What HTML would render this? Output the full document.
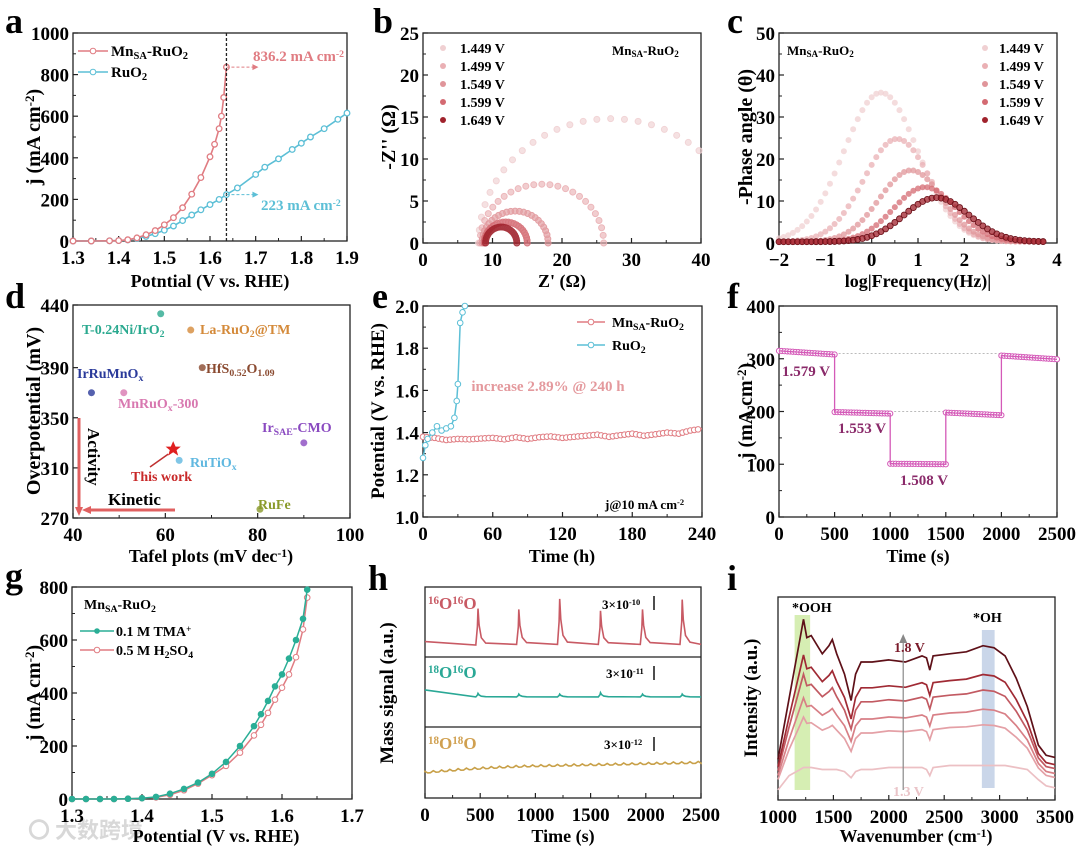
<!DOCTYPE html>
<html><head><meta charset="utf-8"><style>
html,body{margin:0;padding:0;background:#fff}
svg{display:block;font-family:"Liberation Serif","Noto Serif CJK SC",serif;font-weight:bold}
</style></head><body>
<svg id="fig" width="1080" height="851" viewBox="0 0 1080 851" xmlns="http://www.w3.org/2000/svg">
<g font-size="36" fill="#000">
<text x="5" y="33">a</text>
<text x="373" y="33">b</text>
<text x="727" y="33">c</text>
<text x="5" y="308">d</text>
<text x="372" y="308">e</text>
<text x="727" y="308">f</text>
<text x="5" y="588">g</text>
<text x="368" y="590">h</text>
<text x="727" y="590">i</text>
</g>
<text x="28" y="838" font-size="22" fill="#d8d8d8" font-family="'Noto Sans CJK SC',sans-serif">〇 大数跨境</text>
</svg>
<script>
// ---------- DATA ----------
const aMnX=[1.30,1.34,1.38,1.40,1.42,1.44,1.46,1.48,1.50,1.52,1.54,1.56,1.58,1.60,1.61,1.62,1.625,1.63,1.636];
const aMnY=[0,0,1,2,6,15,30,50,78,112,160,225,305,405,465,540,600,690,836];
const aRuX=[1.30,1.34,1.38,1.40,1.42,1.44,1.46,1.48,1.50,1.52,1.54,1.56,1.58,1.60,1.62,1.636,1.66,1.70,1.72,1.75,1.78,1.80,1.82,1.85,1.88,1.90];
const aRuY=[0,0,1,2,5,12,22,35,52,72,98,125,150,175,200,223,255,320,355,395,440,470,500,540,585,615];
const bVolt=['1.449 V','1.499 V','1.549 V','1.599 V','1.649 V'];
const bStart=[8.0,8.2,8.5,8.8,9.0];
const bEnd=[46,26,18,15,13.5];
const bPeak=[14.8,7.0,3.8,2.5,1.9];
const cPeakPos=[0.2,0.55,0.85,1.15,1.4];
const cPeakH=[35.5,24.5,17,13,10.5];
const cWidth=[0.8,0.72,0.68,0.68,0.7];
const shadeCols=['#f0d0d2','#eab0b4','#e0959a','#d46a72','#a0222c'];
const dX=[59,65.5,68,44,51,90,63,80.5];
const dY=[433,420,390,370,370,330,316,277];
const dLab=['T-0.24Ni/IrO2','La-RuO2@TM','HfS0.52O1.09','IrRuMnOx','MnRuOx-300','IrSAE-CMO','RuTiOx','RuFe'];
const dCol=['#2aa98f','#d48a3a','#8a4a30','#2a3a9a','#d878b0','#8a4ac0','#60b8e0','#8a9a2a'];
const dStarX=61.7, dStarY=325;
const eMnT=[0,10,20,30,40,50,60,70,80,90,100,110,120,130,140,150,160,170,180,190,200,210,220,230,240];
const eMnV=[1.38,1.375,1.365,1.37,1.368,1.372,1.375,1.368,1.378,1.37,1.378,1.382,1.375,1.38,1.385,1.39,1.38,1.388,1.395,1.385,1.392,1.40,1.395,1.41,1.418];
const eRuT=[0,2,4,8,12,16,20,24,27,29,30,32,34,36];
const eRuV=[1.28,1.34,1.37,1.40,1.43,1.41,1.42,1.43,1.47,1.55,1.63,1.92,1.97,2.0];
const fStart=[0,500,1000,1500,2000];
const fEnd=[500,1000,1500,2000,2500];
const fLevelA=[315,199,101,198,306];
const fLevelB=[308,196,100,193,299];
const gTx=[1.30,1.32,1.34,1.36,1.38,1.40,1.42,1.44,1.46,1.48,1.50,1.52,1.54,1.56,1.57,1.58,1.59,1.60,1.61,1.62,1.63,1.636];
const gTy=[0,0,0,0,1,3,8,20,38,62,95,140,200,275,320,370,425,470,530,600,680,790];
const gHx=[1.30,1.32,1.34,1.36,1.38,1.40,1.42,1.44,1.46,1.48,1.50,1.52,1.54,1.56,1.57,1.58,1.59,1.60,1.61,1.62,1.63,1.636];
const gHy=[0,0,0,0,1,3,6,16,33,58,90,125,175,240,280,325,375,420,470,535,640,760];
const hPeakT=[480,850,1220,1590,1970,2330];
const hPeakA=[0.52,0.50,0.65,0.48,0.50,0.64];
const hPeakB=[0.05,0.04,0.04,0.06,0.04,0.04];
const hBaseA=[0.12,0.17,0.18,0.18,0.18,0.18,0.18];
const hBaseC=[0.36,0.40,0.43,0.45,0.46,0.47,0.48,0.49,0.50];
const iW=[1000,1100,1200,1230,1260,1300,1400,1460,1490,1530,1600,1660,1700,1750,1850,2000,2150,2300,2340,2370,2400,2550,2700,2850,2950,3050,3150,3250,3350,3420,3500];
const iTop=[0.20,0.50,0.80,0.89,0.80,0.81,0.72,0.76,0.79,0.72,0.62,0.49,0.62,0.68,0.68,0.69,0.68,0.71,0.70,0.64,0.71,0.72,0.73,0.76,0.75,0.71,0.60,0.46,0.27,0.22,0.21];
const iBase=[0.05,0.12,0.15,0.16,0.16,0.16,0.15,0.15,0.15,0.15,0.14,0.11,0.14,0.15,0.15,0.16,0.16,0.16,0.15,0.12,0.16,0.17,0.17,0.17,0.17,0.17,0.16,0.15,0.10,0.07,0.06];
const iScale=[0,0.34,0.47,0.63,0.76,1];
const iCols=['#ecc0c4','#e4a0a6','#d87f86','#c25a62','#a02a34','#5e1018'];

// ---------- HELPERS ----------
const NS='http://www.w3.org/2000/svg';
const svg=document.getElementById('fig');
function el(tag,attrs,parent){const e=document.createElementNS(NS,tag);for(const k in attrs)e.setAttribute(k,attrs[k]);(parent||svg).appendChild(e);return e;}
function scale(d0,d1,r0,r1){return v=>r0+(v-d0)/(d1-d0)*(r1-r0);}
function axes(name,L,R,T,B,xd,yd,xt,yt,xfmt,yfmt,minorX,minorY){
  const g=el('g',{});
  
  
  const sx=scale(xd[0],xd[1],L,R), sy=scale(yd[0],yd[1],B,T);
  const fr=el('rect',{x:L,y:T,width:R-L,height:B-T,fill:'none',stroke:'#222','stroke-width':1.3},g);
  
  
  xt.forEach((v,i)=>{const x=sx(v);
    el('line',{x1:x,x2:x,y1:B,y2:B-5,stroke:'#222','stroke-width':1.2},g);
    const t=el('text',{x:x,y:B+23,'font-size':19,'text-anchor':'middle'},g);t.textContent=xfmt(v);
    
    
    if(minorX&&i<xt.length-1){const m=sx((v+xt[i+1])/2);el('line',{x1:m,x2:m,y1:B,y2:B-3,stroke:'#222'},g);}
  });
  yt.forEach((v,i)=>{const y=sy(v);
    el('line',{x1:L,x2:L+5,y1:y,y2:y,stroke:'#222','stroke-width':1.2},g);
    const t=el('text',{x:L-4,y:y+7,'font-size':19,'text-anchor':'end'},g);t.textContent=yfmt(v);
    
    
    if(minorY&&i<yt.length-1){const m=sy((v+yt[i+1])/2);el('line',{x1:L,x2:L+3,y1:m,y2:m,stroke:'#222'},g);}
  });
  return {sx,sy,g};
}
function rich(x,y,html,attrs,name){
  const t=el('text',Object.assign({x:x,y:y},attrs));
  t.innerHTML=html;
  
  
  return t;
}
function ytitle(x,y,html,name,fs){return rich(0,0,html,{'font-size':fs||18,'text-anchor':'middle',transform:`translate(${x},${y}) rotate(-90)`},name);}
const SUB=s=>`<tspan font-size="70%" baseline-shift="-25%">${s}</tspan>`;
const SUP=s=>`<tspan font-size="65%" baseline-shift="45%">${s}</tspan>`;
function path(pts,attrs,parent){return el('path',Object.assign({d:'M'+pts.map(p=>p[0].toFixed(1)+','+p[1].toFixed(1)).join('L'),fill:'none'},attrs),parent);}
const id=v=>String(v);

// ---------- PANEL A ----------
(function(){
  const A=axes('panel-a',73,347,33,241,[1.3,1.9],[0,1000],[1.3,1.4,1.5,1.6,1.7,1.8,1.9],[0,200,400,600,800,1000],v=>v.toFixed(1),id,true,true);
  const red='#e07c82',blue='#5cbfd6';
  const g1=el('g',{});
  
  
  path(aRuX.map((x,i)=>[A.sx(x),A.sy(aRuY[i])]),{stroke:blue,'stroke-width':1.6},g1);
  aRuX.forEach((x,i)=>{const c=el('circle',{cx:A.sx(x),cy:A.sy(aRuY[i]),r:2.8,fill:'#fff',stroke:blue,'stroke-width':1.3},g1);
    
    });
  const g2=el('g',{});
  
  
  path(aMnX.map((x,i)=>[A.sx(x),A.sy(aMnY[i])]),{stroke:red,'stroke-width':1.6},g2);
  aMnX.forEach((x,i)=>{const c=el('circle',{cx:A.sx(x),cy:A.sy(aMnY[i]),r:2.8,fill:'#fff',stroke:red,'stroke-width':1.3},g2);
    
    });
  const vx=A.sx(1.636);
  const dl=el('line',{x1:vx,x2:vx,y1:33,y2:241,stroke:'#222','stroke-dasharray':'3,2','stroke-width':1.3});
  
  
  el('line',{x1:vx,x2:vx+28,y1:A.sy(836),y2:A.sy(836),stroke:red,'stroke-dasharray':'3,2'});
  el('path',{d:`M${vx+32},${A.sy(836)} l-6,-3 v6z`,fill:red});
  el('line',{x1:vx,x2:vx+28,y1:A.sy(223),y2:A.sy(223),stroke:blue,'stroke-dasharray':'3,2'});
  el('path',{d:`M${vx+32},${A.sy(223)} l-6,-3 v6z`,fill:blue});
  rich(253,61,'836.2 mA cm'+SUP('-2'),{'font-size':15,fill:red},'annotation-836');
  rich(261,210,'223 mA cm'+SUP('-2'),{'font-size':15,fill:blue},'annotation-223');
  el('line',{x1:78,x2:108,y1:51,y2:51,stroke:red,'stroke-width':1.6});
  el('circle',{cx:93,cy:51,r:2.8,fill:'#fff',stroke:red});
  el('line',{x1:78,x2:108,y1:72,y2:72,stroke:blue,'stroke-width':1.6});
  el('circle',{cx:93,cy:72,r:2.8,fill:'#fff',stroke:blue});
  rich(111,56,'Mn'+SUB('SA')+'-RuO'+SUB('2'),{'font-size':15},'legend-mnsa-ruo2');
  rich(111,77,'RuO'+SUB('2'),{'font-size':15},'legend-ruo2');
  rich(210,287,'Potntial (V vs. RHE)',{'font-size':18,'text-anchor':'middle'},'x-axis-title-a');
  ytitle(40,137,'j (mA cm'+SUP('-2')+')','y-axis-title-a',20);
})();

// ---------- PANEL B ----------
(function(){
  const A=axes('panel-b',423,701,33,243,[0,40],[0,25],[0,10,20,30,40],[0,5,10,15,20,25],id,id,true,true);
  for(let k=0;k<5;k++){
    const g=el('g',{opacity:0.9});
    
    
    const cx=(bStart[k]+bEnd[k])/2, rx=(bEnd[k]-bStart[k])/2, ry=bPeak[k];
    const n=k==0?30:24;
    for(let j=0;j<=n;j++){const a=Math.PI-j*Math.PI/n;const x=cx+rx*Math.cos(a), y=ry*Math.sin(a);
      if(x>40)continue;
      const c=el('circle',{cx:A.sx(x),cy:A.sy(y),r:3,fill:shadeCols[k],stroke:shadeCols[k],'fill-opacity':0.7},g);
      
      }
    el('circle',{cx:443,cy:48+k*18,r:3,fill:shadeCols[k]});
    rich(460,53+k*18,bVolt[k],{'font-size':14},'legend-b-'+k);
  }
  rich(612,55,'Mn'+SUB('SA')+'-RuO'+SUB('2'),{'font-size':13},'label-b-sample');
  rich(562,287,"Z' (Ω)",{'font-size':18,'text-anchor':'middle'},'x-axis-title-b');
  ytitle(395,137,"-Z'' (Ω)",'y-axis-title-b',20);
})();

// ---------- PANEL C ----------
(function(){
  const A=axes('panel-c',779,1057,33,243,[-2,4],[0,50],[-2,-1,0,1,2,3,4],[0,10,20,30,40,50],v=>v<0?'−'+(-v):String(v),id,true,true);
  for(let k=0;k<5;k++){
    const g=el('g',{});
    
    
    for(let x=-2;x<=3.8;x+=0.1){const y=0.3+cPeakH[k]*Math.exp(-Math.pow(x-cPeakPos[k],2)/(2*cWidth[k]*cWidth[k]));
      const c=el('circle',{cx:A.sx(x),cy:A.sy(y),r:3,fill:shadeCols[k],'fill-opacity':0.75,stroke:k==4?'#6a1018':'none','stroke-width':0.8},g);
      
      }
    el('circle',{cx:985,cy:48+k*18,r:3,fill:shadeCols[k]});
    rich(999,53+k*18,bVolt[k],{'font-size':14},'legend-c-'+k);
  }
  rich(787,55,'Mn'+SUB('SA')+'-RuO'+SUB('2'),{'font-size':13},'label-c-sample');
  rich(918,287,'log|Frequency(Hz)|',{'font-size':18,'text-anchor':'middle'},'x-axis-title-c');
  ytitle(752,137,'-Phase angle (θ)','y-axis-title-c',20);
})();

// ---------- PANEL D ----------
(function(){
  const A=axes('panel-d',73,350,305,518,[40,100],[270,440],[40,60,80,100],[270,310,350,390,440],id,id,true,false);
  const lp=[[82,334],[200,334],[206,373],[77,378],[118,408],[262,432],[190,467],[258,509]];
  for(let k=0;k<dX.length;k++){
    const x=A.sx(dX[k]),y=A.sy(dY[k]);
    const m=el('circle',{cx:x,cy:y,r:3.5,fill:dCol[k],'fill-opacity':0.8});
    
    
    let h=dLab[k].replace('IrO2','IrO'+SUB('2')).replace('RuO2','RuO'+SUB('2')).replace('S0.52O1.09','S'+SUB('0.52')+'O'+SUB('1.09')).replace('MnOx','MnO'+SUB('x')).replace('RuOx','RuO'+SUB('x')).replace('TiOx','TiO'+SUB('x')).replace('SAE',SUB('SAE'));
    rich(lp[k][0],lp[k][1],h,{'font-size':14,fill:dCol[k]},'label-'+k);
  }
  const sx=A.sx(dStarX),sy=A.sy(dStarY);
  const st=el('path',{d:`M${sx},${sy-8} L${sx+2.4},${sy-2.5} L${sx+7.6},${sy-2.5} L${sx+3.4},${sy+1} L${sx+5},${sy+6.5} L${sx},${sy+3.2} L${sx-5},${sy+6.5} L${sx-3.4},${sy+1} L${sx-7.6},${sy-2.5} L${sx-2.4},${sy-2.5}Z`,fill:'#e02020'});
  
  
  el('line',{x1:150,y1:467,x2:sx-5,y2:sy+5,stroke:'#c03030','stroke-width':1.5});
  rich(131,481,'This work',{'font-size':14,fill:'#c82828'},'label-this-work');
  el('line',{x1:79,y1:418,x2:79,y2:510,stroke:'#e06060','stroke-width':3});
  el('path',{d:'M79,516 l-4,-9 h8z',fill:'#e06060'});
  el('line',{x1:175,y1:510,x2:86,y2:510,stroke:'#e06060','stroke-width':3});
  el('path',{d:'M82,510 l9,-4 v8z',fill:'#e06060'});
  rich(0,0,'Activity',{'font-size':17,transform:'translate(88,428) rotate(90)'},'label-activity');
  rich(108,505,'Kinetic',{'font-size':17},'label-kinetic');
  rich(211,562,'Tafel plots (mV dec'+SUP('-1')+')',{'font-size':18,'text-anchor':'middle'},'x-axis-title-d');
  ytitle(40,411,'Overpotential (mV)','y-axis-title-d',20);
})();

// ---------- PANEL E ----------
(function(){
  const A=axes('panel-e',423,702,306,517,[0,240],[1.0,2.0],[0,60,120,180,240],[1.0,1.2,1.4,1.6,1.8,2.0],id,v=>v.toFixed(1),true,true);
  const red='#e07c82',blue='#5cbfd6';
  const g1=el('g',{});
  
  
  path(eMnT.map((t,i)=>[A.sx(t),A.sy(eMnV[i])]),{stroke:red,'stroke-width':1.5},g1);
  for(let i=0;i<eMnT.length-1;i++){
    [0,0.33,0.66].forEach(f=>{const t=eMnT[i]+f*(eMnT[i+1]-eMnT[i]);const v=eMnV[i]+f*(eMnV[i+1]-eMnV[i]);
      const c=el('circle',{cx:A.sx(t),cy:A.sy(v),r:2.8,fill:'#fff',stroke:red},g1);
      
      });
  }
  const g2=el('g',{});
  
  
  path(eRuT.map((t,i)=>[A.sx(t),A.sy(eRuV[i])]),{stroke:blue,'stroke-width':1.5},g2);
  eRuT.forEach((t,i)=>{const c=el('circle',{cx:A.sx(t),cy:A.sy(eRuV[i]),r:2.8,fill:'#fff',stroke:blue},g2);
    
    });
  el('line',{x1:577,x2:605,y1:322,y2:322,stroke:red,'stroke-width':1.5});
  el('circle',{cx:591,cy:322,r:2.8,fill:'#fff',stroke:red});
  el('line',{x1:577,x2:605,y1:345,y2:345,stroke:blue,'stroke-width':1.5});
  el('circle',{cx:591,cy:345,r:2.8,fill:'#fff',stroke:blue});
  rich(612,327,'Mn'+SUB('SA')+'-RuO'+SUB('2'),{'font-size':14},'legend-e-mnsa');
  rich(612,350,'RuO'+SUB('2'),{'font-size':14},'legend-e-ruo2');
  rich(548,391,'increase 2.89% @ 240 h',{'font-size':15,fill:'#e4999d','text-anchor':'middle'},'annotation-increase');
  rich(605,509,'j@10 mA cm'+SUP('-2'),{'font-size':13},'annotation-current');
  rich(562,562,'Time (h)',{'font-size':18,'text-anchor':'middle'},'x-axis-title-e');
  ytitle(384,411,'Potential (V vs. RHE)','y-axis-title-e',19);
})();

// ---------- PANEL F ----------
(function(){
  const A=axes('panel-f',779,1057,306,517,[0,2500],[0,400],[0,500,1000,1500,2000,2500],[0,100,200,300,400],id,id,true,true);
  const col='#d45ab8';
  el('line',{x1:A.sx(500),x2:A.sx(2000),y1:A.sy(310),y2:A.sy(310),stroke:'#bbb','stroke-dasharray':'2,2'});
  el('line',{x1:A.sx(1000),x2:A.sx(1500),y1:A.sy(200),y2:A.sy(200),stroke:'#bbb','stroke-dasharray':'2,2'});
  const g=el('g',{});
  
  
  const pts=[];
  for(let k=0;k<fStart.length;k++){
    for(let j=0;j<=20;j++){const t=fStart[k]+j*(fEnd[k]-fStart[k])/20;const v=fLevelA[k]+j/20*(fLevelB[k]-fLevelA[k]);pts.push([A.sx(t),A.sy(v)]);
      const c=el('circle',{cx:A.sx(t),cy:A.sy(v),r:2.6,fill:'#fff',stroke:col},g);
      
      }
  }
  path(pts,{stroke:col,'stroke-width':1.3},g);
  rich(782,376,'1.579 V',{'font-size':15,fill:'#8a2a6a'},'label-1.579v');
  rich(838,433,'1.553 V',{'font-size':15,fill:'#8a2a6a'},'label-1.553v');
  rich(900,485,'1.508 V',{'font-size':15,fill:'#8a2a6a'},'label-1.508v');
  rich(918,562,'Time (s)',{'font-size':18,'text-anchor':'middle'},'x-axis-title-f');
  ytitle(752,411,'j (mA cm'+SUP('-2')+')','y-axis-title-f',20);
})();

// ---------- PANEL G ----------
(function(){
  const A=axes('panel-g',72,352,587,799,[1.3,1.7],[0,800],[1.3,1.4,1.5,1.6,1.7],[0,200,400,600,800],v=>v.toFixed(1),id,true,true);
  const teal='#2aae96',red='#e07c82';
  [[gHx,gHy,red,'series-h2so4'],[gTx,gTy,teal,'series-tma']].forEach(s=>{
    const g=el('g',{});
    
    
    path(s[0].map((x,i)=>[A.sx(x),A.sy(s[1][i])]),{stroke:s[2],'stroke-width':1.5},g);
    s[0].forEach((x,i)=>{const c=el('circle',{cx:A.sx(x),cy:A.sy(s[1][i]),r:2.8,fill:s[2]==teal?teal:'#fff',stroke:s[2]},g);
      
      });
  });
  rich(84,609,'Mn'+SUB('SA')+'-RuO'+SUB('2'),{'font-size':14},'label-g-sample');
  el('line',{x1:80,x2:114,y1:631,y2:631,stroke:teal,'stroke-width':1.5});
  el('circle',{cx:97,cy:631,r:2.8,fill:teal});
  el('line',{x1:80,x2:114,y1:650,y2:650,stroke:red,'stroke-width':1.5});
  el('circle',{cx:97,cy:650,r:2.8,fill:'#fff',stroke:red});
  rich(116,636,'0.1 M TMA'+SUP('+'),{'font-size':14},'legend-tma');
  rich(116,655,'0.5 M H'+SUB('2')+'SO'+SUB('4'),{'font-size':14},'legend-h2so4');
  rich(216,842,'Potential (V vs. RHE)',{'font-size':18,'text-anchor':'middle'},'x-axis-title-g');
  ytitle(40,693,'j (mA cm'+SUP('-2')+')','y-axis-title-g',20);
})();

// ---------- PANEL H ----------
(function(){
  const A=axes('panel-h',425,701,587,798,[0,2500],[0,1],[0,500,1000,1500,2000,2500],[],id,id,true,false);
  el('line',{x1:425,x2:701,y1:657,y2:657,stroke:'#222','stroke-width':1.2});
  el('line',{x1:425,x2:701,y1:727,y2:727,stroke:'#222','stroke-width':1.2});
  const sub=(T,B)=>scale(0,1,B,T);
  const sA=sub(587,657),sB=sub(657,727),sC=sub(727,798);
  function trace(base,peaks,sy,col,name){
    const pts=[];
    const bAt=t=>{const p=t/2500*(base.length-1);const i=Math.min(Math.floor(p),base.length-2);return base[i]+(p-i)*(base[i+1]-base[i]);};
    pts.push([A.sx(0),sy(bAt(0)+0.1*(peaks?1:0))]);
    if(peaks){hPeakT.forEach((pt,i)=>{[[pt-20,0],[pt-5,peaks[i]*0.5],[pt,peaks[i]],[pt+10,peaks[i]*0.55],[pt+30,peaks[i]*0.2],[pt+70,peaks[i]*0.05]].forEach(q=>pts.push([A.sx(q[0]),sy(bAt(q[0])+q[1])]));});}
    else{for(let x=0;x<=2500;x+=25)pts.push([A.sx(x),sy(bAt(x)+((x/25)%3==0?0.015:-0.01))]);}
    pts.push([A.sx(2500),sy(bAt(2500))]);
    const p=path(pts,{stroke:col,'stroke-width':1.6});
    
    
  }
  trace(hBaseA,hPeakA,sA,'#c85a64','trace-16o16o');
  trace([0.43,0.43,0.43,0.43],hPeakB,sB,'#2aa896','trace-18o16o');
  trace(hBaseC,null,sC,'#c8a048','trace-18o18o');
  rich(428,609,SUP('16')+'O'+SUP('16')+'O',{'font-size':17,fill:'#c85a64'},'label-16o16o');
  rich(428,678,SUP('18')+'O'+SUP('16')+'O',{'font-size':17,fill:'#2aa896'},'label-18o16o');
  rich(428,749,SUP('18')+'O'+SUP('18')+'O',{'font-size':17,fill:'#d0a050'},'label-18o18o');
  rich(602,609,'3×10'+SUP('-10'),{'font-size':13},'scale-a');
  rich(606,678,'3×10'+SUP('-11'),{'font-size':13},'scale-b');
  rich(604,749,'3×10'+SUP('-12'),{'font-size':13},'scale-c');
  [596,666,737].forEach(y=>el('line',{x1:654,x2:654,y1:y,y2:y+14,stroke:'#222','stroke-width':1.6}));
  rich(563,842,'Time (s)',{'font-size':18,'text-anchor':'middle'},'x-axis-title-h');
  ytitle(393,693,'Mass signal (a.u.)','y-axis-title-h',19);
})();

// ---------- PANEL I ----------
(function(){
  const A=axes('panel-i',778,1055,597,800,[1000,3500],[0,1],[1000,1500,2000,2500,3000,3500],[],id,id,true,false);
  const gr=el('rect',{x:A.sx(1150),y:615,width:A.sx(1290)-A.sx(1150),height:175,fill:'#c8e89a','fill-opacity':0.75});
  
  
  const br=el('rect',{x:A.sx(2840),y:630,width:A.sx(2955)-A.sx(2840),height:158,fill:'#b4c4e0','fill-opacity':0.7});
  
  
  for(let k=0;k<iScale.length;k++){
    const p=path(iW.map((w,i)=>[A.sx(w),A.sy(iBase[i]+iScale[k]*(iTop[i]-iBase[i]))]),{stroke:iCols[k],'stroke-width':1.7});
    
    
  }
  el('line',{x1:A.sx(2130),x2:A.sx(2130),y1:790,y2:640,stroke:'#888','stroke-width':1.2});
  el('path',{d:`M${A.sx(2130)},634 l-4,9 h8z`,fill:'#888'});
  rich(792,612,'*OOH',{'font-size':14},'label-ooh');
  rich(973,622,'*OH',{'font-size':14},'label-oh');
  rich(894,652,'1.8 V',{'font-size':14,fill:'#7a1a2a'},'label-1.8v');
  rich(893,796,'1.3 V',{'font-size':14,fill:'#eac4c8'},'label-1.3v');
  rich(916,842,'Wavenumber (cm'+SUP('-1')+')',{'font-size':18,'text-anchor':'middle'},'x-axis-title-i');
  ytitle(757,698,'Intensity (a.u.)','y-axis-title-i',19);
})();
</script>
</body></html>
